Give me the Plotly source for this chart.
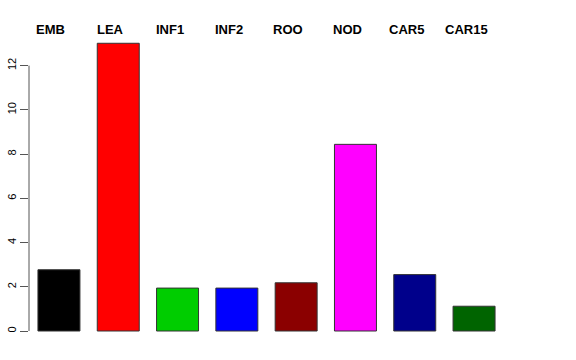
import plotly.graph_objects as go

categories = ["EMB", "LEA", "INF1", "INF2", "ROO", "NOD", "CAR5", "CAR15"]
values = [2.77, 13.01, 1.94, 1.94, 2.18, 8.44, 2.55, 1.12]
bar_colors = ["#000000", "#FF0000", "#00CD00", "#0000FF", "#8B0000", "#FF00FF", "#00008B", "#006400"]
y_ticks = [0, 2, 4, 6, 8, 10, 12]

x_idx = list(range(len(categories)))

fig = go.Figure()
fig.add_trace(go.Bar(
    x=x_idx, y=values,
    marker=dict(color=bar_colors, line=dict(color="#333333", width=1)),
    width=0.708,
    hoverinfo="skip",
))

for i, name in enumerate(categories):
    fig.add_annotation(
        x=i, y=1, xref="x", yref="paper",
        text="<b>" + name + "</b>", showarrow=False,
        xanchor="center", yanchor="middle", xshift=-8, yshift=3,
        font=dict(family="Liberation Sans, Arial, sans-serif", size=13, color="black"),
    )

# R-style y axis line spanning only the tick range
fig.add_shape(type="line", xref="paper", yref="y", x0=0, x1=0,
              y0=y_ticks[0], y1=y_ticks[-1], line=dict(color="#555555", width=1))

fig.update_layout(
    width=576, height=360,
    margin=dict(l=29, r=72, t=32, b=18, autoexpand=False),
    paper_bgcolor="white", plot_bgcolor="white",
    showlegend=False,
    font=dict(family="Liberation Sans, Arial, sans-serif", size=12, color="black"),
)
fig.update_xaxes(range=[-0.505, 7.505], visible=False, showgrid=False, zeroline=False,
                 automargin=False)
fig.update_yaxes(
    range=[-0.4975, 13.52], tickvals=y_ticks, ticktext=[str(v) for v in y_ticks],
    ticks="outside", ticklen=8, tickcolor="#555555", tickwidth=1,
    tickangle=-90, showgrid=False, zeroline=False, showline=False,
    tickfont=dict(size=11, color="black"), automargin=False,
)

fig.write_html("out.html", config={"displayModeBar": False},
               post_script="document.body.style.margin='0';")
